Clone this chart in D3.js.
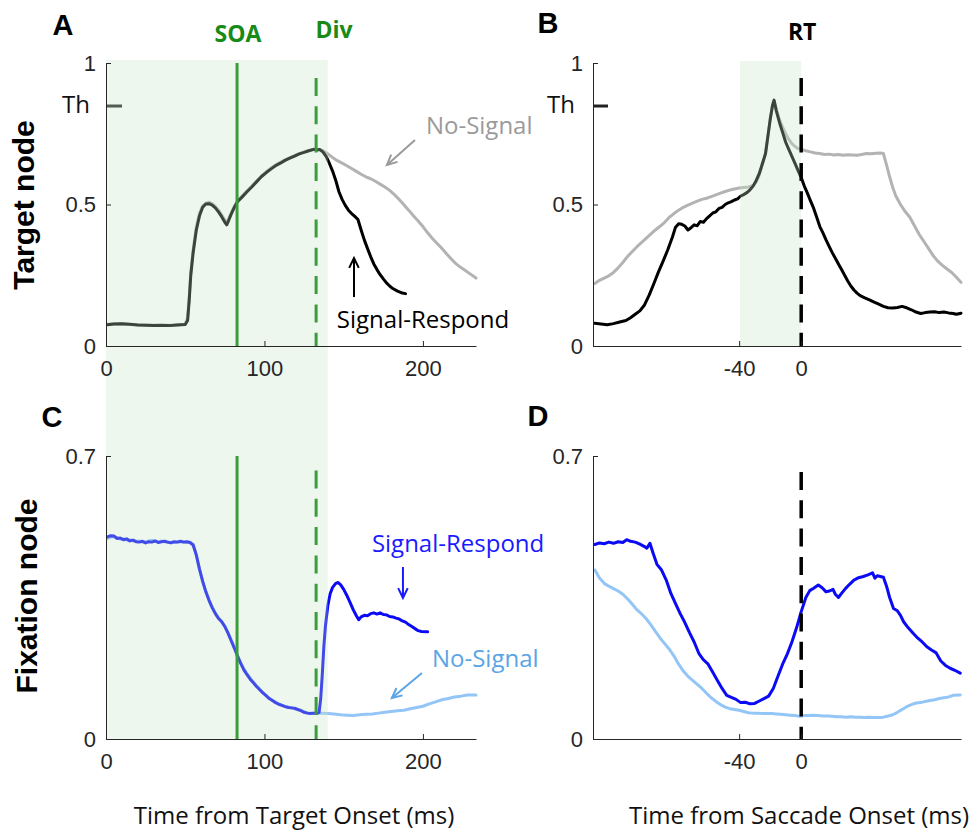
<!DOCTYPE html>
<html>
<head>
<meta charset="utf-8">
<script src="https://cdn.jsdelivr.net/npm/d3@7"></script>
<style>
  body { margin: 0; background: #fff; }
  .tick text { font-family: "Liberation Sans", Arial, sans-serif; font-size: 22px; fill: #262626; }
  .domain, .tick line { stroke: #262626; stroke-width: 1; }
  .note { font-family: "Open Sans", sans-serif; font-size: 24px; }
  .note.bold { font-size: 23px; font-weight: bold; }
  .panel { font-family: "Liberation Sans", Arial, sans-serif; font-size: 29px; font-weight: bold; }
</style>
</head>
<body>
<div id="fig"></div>
<script>
// ---- data ----
// panels A/C: time from target onset (ms); panels B/D: time from saccade onset (ms)
const targetTicksX = [0, 100, 200];
const saccadeTicksX = [-40, 0];
const targetNodeTicksY = [0, 0.5, 1];
const fixationNodeTicksY = [0, 0.7];
const soaTime = 82.7;
const divTime = 132.6;
const rtTime = 0;
const threshold = 0.848;

// A: target node, aligned on target
const aSignalRespond = [[1,0.075],[5,0.078],[10,0.079],[15,0.077],[20,0.074],[25,0.073],[30,0.072],[35,0.073],[40,0.072],[45,0.074],[50,0.076],[51.5,0.09],[52.5,0.16],[53.5,0.25],[55,0.33],[57,0.41],[59,0.46],[61,0.49],[63,0.502],[65,0.503],[67,0.498],[69,0.488],[71,0.474],[73,0.457],[75,0.437],[76.2,0.428],[77.5,0.445],[79,0.466],[81,0.49],[83,0.51],[86,0.527],[89,0.545],[92,0.562],[95,0.58],[98,0.598],[101,0.612],[104,0.625],[107,0.637],[110,0.646],[113,0.656],[116,0.664],[119,0.671],[122,0.679],[125,0.684],[128,0.69],[131,0.695],[133,0.693],[135,0.694],[137,0.685],[139,0.669],[141,0.645],[143,0.618],[145,0.585],[147,0.545],[149,0.518],[151,0.497],[153,0.48],[155,0.468],[157,0.458],[159,0.447],[161,0.41],[163,0.375],[165,0.345],[167,0.316],[169,0.29],[171,0.27],[173,0.252],[175,0.237],[177,0.223],[179,0.212],[181,0.203],[184,0.194],[187,0.187],[189,0.185]];
const aNoSignal = [[1,0.077],[5,0.079],[10,0.078],[15,0.076],[20,0.075],[25,0.074],[30,0.073],[35,0.072],[40,0.073],[45,0.075],[50,0.077],[51.5,0.1],[52.5,0.17],[53.5,0.26],[55,0.34],[57,0.42],[59,0.47],[61,0.495],[63,0.505],[65,0.508],[67,0.503],[69,0.493],[71,0.48],[73,0.463],[75,0.445],[76.2,0.437],[77.5,0.45],[79,0.47],[81,0.494],[83,0.513],[86,0.531],[89,0.548],[92,0.565],[95,0.583],[98,0.6],[101,0.615],[104,0.628],[107,0.64],[110,0.649],[113,0.658],[116,0.666],[119,0.673],[122,0.68],[125,0.686],[128,0.691],[131,0.694],[133,0.695],[135,0.694],[137,0.69],[140,0.679],[143,0.666],[146,0.655],[149,0.646],[152,0.637],[155,0.627],[158,0.617],[161,0.607],[164,0.598],[167,0.591],[170,0.582],[173,0.572],[176,0.562],[179,0.55],[182,0.535],[185,0.518],[188,0.499],[191,0.48],[194,0.46],[197,0.442],[200,0.422],[203,0.4],[206,0.38],[209,0.362],[212,0.345],[215,0.325],[218,0.307],[221,0.29],[224,0.277],[227,0.266],[230,0.254],[233.5,0.24]];

// B: target node, aligned on saccade
const bSignalRespond = [[-133,0.08],[-129,0.078],[-125,0.075],[-121,0.079],[-117,0.085],[-113,0.09],[-110,0.1],[-107,0.112],[-104,0.124],[-101,0.145],[-98,0.18],[-95,0.22],[-92,0.262],[-89,0.3],[-86,0.34],[-83,0.385],[-81,0.42],[-79,0.432],[-77,0.43],[-75,0.424],[-73,0.41],[-71,0.418],[-69,0.428],[-67,0.425],[-65,0.44],[-63,0.437],[-61,0.45],[-59,0.46],[-57,0.47],[-55,0.474],[-53,0.486],[-51,0.49],[-49,0.5],[-47,0.506],[-45,0.51],[-43,0.516],[-41,0.52],[-39,0.53],[-37,0.535],[-35,0.542],[-33,0.552],[-31,0.565],[-29,0.585],[-27,0.61],[-25,0.645],[-23,0.68],[-21.5,0.74],[-20,0.8],[-18.5,0.85],[-17.5,0.869],[-16,0.83],[-14,0.79],[-12,0.755],[-10,0.72],[-8,0.695],[-6,0.67],[-4,0.645],[-2,0.62],[0,0.595],[2,0.565],[4,0.54],[6,0.513],[8,0.487],[10,0.455],[12,0.422],[14,0.4],[16,0.375],[18,0.352],[20,0.33],[22,0.31],[24,0.29],[26,0.27],[28,0.25],[30,0.23],[32,0.212],[34,0.198],[36,0.187],[38,0.178],[41,0.17],[44,0.163],[47,0.155],[50,0.148],[53,0.14],[56,0.135],[59,0.134],[62,0.136],[65,0.14],[68,0.135],[71,0.128],[74,0.12],[77,0.115],[80,0.118],[83,0.12],[86,0.121],[89,0.118],[92,0.12],[95,0.117],[98,0.115],[100,0.112],[103,0.116]];
const bNoSignal = [[-133,0.221],[-130,0.232],[-127,0.24],[-124,0.248],[-121,0.26],[-118,0.276],[-115,0.295],[-112,0.316],[-109,0.333],[-106,0.35],[-103,0.365],[-100,0.38],[-97,0.395],[-94,0.41],[-91,0.423],[-88,0.437],[-85,0.455],[-82,0.468],[-79,0.48],[-76,0.49],[-73,0.498],[-70,0.505],[-67,0.512],[-64,0.518],[-61,0.522],[-58,0.528],[-55,0.534],[-52,0.54],[-49,0.546],[-46,0.551],[-43,0.555],[-40,0.558],[-37,0.56],[-34,0.562],[-31,0.567],[-29,0.58],[-27,0.605],[-25,0.64],[-23,0.68],[-21.5,0.74],[-20,0.8],[-18.5,0.85],[-17.5,0.867],[-16,0.835],[-14,0.8],[-12,0.773],[-10,0.75],[-8,0.73],[-6,0.715],[-4,0.705],[-2,0.698],[0,0.695],[3,0.69],[6,0.686],[9,0.682],[12,0.68],[15,0.677],[18,0.678],[21,0.675],[24,0.677],[27,0.674],[30,0.676],[33,0.675],[36,0.674],[39,0.677],[42,0.68],[45,0.679],[48,0.681],[51,0.682],[53,0.68],[55,0.64],[57,0.598],[59,0.56],[61,0.53],[64,0.5],[67,0.475],[70,0.455],[73,0.425],[76,0.395],[79,0.37],[82,0.345],[85,0.32],[88,0.3],[91,0.285],[94,0.272],[97,0.26],[100,0.243],[103,0.225]];

// C: fixation node, aligned on target
const cSignalRespond = [[1,0.5],[3,0.503],[5,0.502],[7,0.496],[9,0.497],[11,0.493],[13,0.495],[15,0.49],[17,0.492],[19,0.488],[21,0.487],[23,0.489],[25,0.485],[27,0.488],[29,0.487],[31,0.49],[33,0.486],[35,0.488],[37,0.489],[39,0.487],[41,0.485],[43,0.488],[45,0.487],[47,0.489],[49,0.487],[51,0.488],[53,0.486],[55,0.48],[57,0.455],[59,0.42],[61,0.39],[63,0.364],[65,0.343],[67,0.325],[69,0.31],[71,0.298],[73,0.29],[75,0.278],[77,0.262],[79,0.243],[81,0.225],[83,0.205],[85,0.187],[87,0.171],[89,0.159],[91,0.148],[93,0.139],[95,0.13],[97,0.122],[99,0.114],[101,0.107],[103,0.1],[105,0.095],[107,0.09],[109,0.086],[111,0.083],[113,0.08],[115,0.078],[117,0.077],[119,0.076],[121,0.073],[123,0.07],[125,0.066],[127,0.064],[129,0.063],[131,0.064],[133,0.063],[134.5,0.066],[135.5,0.1],[136.5,0.16],[137.5,0.23],[138.5,0.28],[140,0.33],[141.5,0.36],[143,0.375],[145,0.385],[146.5,0.387],[148,0.382],[150,0.37],[152,0.355],[154,0.338],[156,0.32],[158,0.305],[159.5,0.295],[161,0.302],[163,0.306],[165,0.305],[167,0.31],[169,0.312],[171,0.309],[173,0.312],[175,0.308],[177,0.307],[179,0.303],[181,0.302],[183,0.299],[185,0.297],[187,0.292],[189,0.289],[191,0.283],[193,0.278],[195,0.273],[197,0.268],[199,0.266],[203,0.265]];
const cNoSignal = [[1,0.496],[3,0.499],[5,0.5],[7,0.498],[9,0.494],[11,0.495],[13,0.492],[15,0.493],[17,0.49],[19,0.489],[21,0.49],[23,0.487],[25,0.488],[27,0.49],[29,0.492],[31,0.489],[33,0.487],[35,0.49],[37,0.488],[39,0.486],[41,0.487],[43,0.486],[45,0.488],[47,0.487],[49,0.488],[51,0.486],[53,0.487],[55,0.481],[57,0.456],[59,0.42],[61,0.391],[63,0.366],[65,0.345],[67,0.327],[69,0.312],[71,0.3],[73,0.291],[75,0.279],[77,0.263],[79,0.245],[81,0.226],[83,0.207],[85,0.189],[87,0.174],[89,0.162],[91,0.151],[93,0.141],[95,0.132],[97,0.124],[99,0.115],[101,0.108],[103,0.101],[105,0.096],[107,0.091],[109,0.087],[111,0.084],[113,0.081],[115,0.079],[117,0.077],[119,0.075],[121,0.073],[123,0.071],[125,0.067],[127,0.065],[129,0.064],[131,0.064],[133,0.064],[136,0.064],[140,0.063],[144,0.062],[148,0.06],[152,0.059],[156,0.058],[160,0.06],[164,0.061],[168,0.062],[172,0.064],[176,0.066],[180,0.068],[184,0.07],[188,0.071],[192,0.075],[196,0.078],[200,0.081],[204,0.087],[208,0.092],[212,0.097],[216,0.1],[220,0.104],[224,0.106],[228,0.109],[233.5,0.109]];

// D: fixation node, aligned on saccade
const dSignalRespond = [[-133,0.481],[-130,0.485],[-127,0.483],[-124,0.487],[-121,0.484],[-118,0.488],[-115,0.486],[-112.5,0.493],[-110,0.489],[-107,0.487],[-104,0.482],[-101,0.476],[-99.5,0.472],[-97.5,0.484],[-95.5,0.46],[-93,0.432],[-90,0.418],[-87,0.393],[-84,0.36],[-81,0.335],[-78,0.31],[-75,0.288],[-72,0.263],[-69,0.24],[-66,0.212],[-63,0.196],[-60,0.185],[-57,0.165],[-54,0.145],[-51,0.125],[-48,0.108],[-45,0.103],[-42,0.098],[-39,0.09],[-36,0.091],[-33,0.087],[-30,0.088],[-27,0.094],[-24,0.1],[-21,0.106],[-18,0.125],[-15,0.155],[-12,0.185],[-9,0.21],[-6,0.24],[-3,0.275],[0,0.315],[3,0.35],[5.5,0.367],[8,0.373],[11,0.381],[13.5,0.374],[16,0.364],[18,0.366],[20.5,0.37],[22,0.358],[24,0.35],[26,0.36],[28.5,0.372],[31,0.382],[34,0.393],[37,0.399],[40,0.402],[43,0.406],[46,0.411],[47.5,0.398],[49,0.404],[51,0.402],[53,0.4],[55,0.378],[57,0.35],[59.5,0.323],[62,0.317],[64,0.306],[66,0.29],[69,0.275],[72,0.262],[75,0.25],[78,0.24],[81,0.228],[84,0.22],[87,0.213],[90,0.193],[93,0.182],[96,0.175],[99,0.17],[102.5,0.163]];
const dNoSignal = [[-133,0.418],[-130,0.398],[-127,0.385],[-124,0.378],[-121,0.372],[-118,0.366],[-115,0.358],[-112,0.347],[-109,0.334],[-106,0.32],[-103,0.31],[-100,0.298],[-97,0.283],[-94,0.266],[-91,0.25],[-88,0.236],[-85,0.222],[-82,0.205],[-79,0.185],[-76,0.168],[-73,0.155],[-70,0.145],[-67,0.135],[-64,0.125],[-61,0.113],[-58,0.102],[-55,0.093],[-52,0.085],[-49,0.079],[-46,0.075],[-43,0.073],[-40,0.071],[-37,0.068],[-34,0.065],[-31,0.064],[-28,0.064],[-25,0.063],[-22,0.063],[-19,0.063],[-16,0.062],[-13,0.061],[-10,0.06],[-7,0.059],[-4,0.058],[-1,0.056],[2,0.058],[5,0.058],[8,0.059],[11,0.058],[14,0.057],[17,0.057],[20,0.056],[23,0.055],[26,0.055],[29,0.054],[32,0.055],[35,0.054],[38,0.054],[41,0.053],[44,0.054],[47,0.053],[50,0.053],[53,0.054],[56,0.057],[59,0.06],[62,0.066],[65,0.073],[68,0.08],[71,0.085],[74,0.089],[77,0.09],[80,0.093],[83,0.095],[86,0.097],[89,0.1],[92,0.102],[95,0.104],[98,0.108],[102.5,0.109]];

// ---- layout ----
const W = 973, H = 832;
const svg = d3.select("#fig").append("svg").attr("width", W).attr("height", H);

const xTarget = d3.scaleLinear().domain([0, 233.5]).range([106, 476]);
const xSaccade = d3.scaleLinear().domain([-134.2, 103]).range([593, 961]);
const yTarget = d3.scaleLinear().domain([0, 1]).range([346, 63]);
const yFix = d3.scaleLinear().domain([0, 0.7]).range([739, 456]);

const GREY = "#b3b3b3", BLACK = "#000", BLUE = "#0a0af5", LIGHTBLUE = "#93c5f7";
const GREEN = "#3a9c3a", GREENTXT = "#178a17";

const layers = {
  lines: svg.append("g"),
  shade: svg.append("g"),
  marks: svg.append("g"),
  axes: svg.append("g"),
  text: svg.append("g")
};

function drawLine(data, x, y, color) {
  layers.lines.append("path")
    .datum(data)
    .attr("fill", "none")
    .attr("stroke", color)
    .attr("stroke-width", 3)
    .attr("stroke-linejoin", "round")
    .attr("stroke-linecap", "round")
    .attr("d", d3.line().x(d => x(d[0])).y(d => y(d[1])));
}

function drawAxes(x, y, xt, yt) {
  const yBot = y.range()[0];
  // plain hyphen for negatives, like the original
  layers.axes.append("g")
    .attr("transform", `translate(0,${yBot})`)
    .call(d3.axisBottom(x).tickValues(xt).tickSize(-5).tickSizeOuter(0).tickPadding(14).tickFormat(d => String(d)));
  layers.axes.append("g")
    .attr("transform", `translate(${x.range()[0]},0)`)
    .call(d3.axisLeft(y).tickValues(yt).tickSize(-5).tickSizeOuter(0).tickPadding(10).tickFormat(d => String(d)));
  layers.axes.selectAll("text").attr("fill", "#262626");
}

function vline(x, y0, y1, color, dashed, width) {
  layers.marks.append("line")
    .attr("x1", x).attr("x2", x).attr("y1", y0).attr("y2", y1)
    .attr("stroke", color).attr("stroke-width", width || 3)
    .attr("stroke-dasharray", dashed ? "18,10.3" : null);
}

function arrow(x0, y0, x1, y1, color) {
  const g = layers.text.append("g").attr("stroke", color).attr("stroke-width", 2).attr("fill", "none");
  g.append("line").attr("x1", x0).attr("y1", y0).attr("x2", x1).attr("y2", y1);
  const a = Math.atan2(y1 - y0, x1 - x0), L = 11, s = 0.45;
  g.append("path")
    .attr("stroke-linejoin", "miter")
    .attr("d", `M${x1 - L * Math.cos(a - s)},${y1 - L * Math.sin(a - s)}L${x1},${y1}L${x1 - L * Math.cos(a + s)},${y1 - L * Math.sin(a + s)}`);
}

function note(x, y, str, color, opts) {
  const t = layers.text.append("text").attr("class", "note")
    .attr("x", x).attr("y", y).attr("fill", color).text(str);
  if (opts && opts.anchor) t.attr("text-anchor", opts.anchor);
  if (opts && opts.bold) t.classed("bold", true);
  return t;
}

// ---- lines ----
drawLine(aNoSignal, xTarget, yTarget, GREY);
drawLine(aSignalRespond, xTarget, yTarget, BLACK);
drawLine(bNoSignal, xSaccade, yTarget, GREY);
drawLine(bSignalRespond, xSaccade, yTarget, BLACK);
drawLine(cNoSignal, xTarget, yFix, LIGHTBLUE);
drawLine(cSignalRespond, xTarget, yFix, BLUE);
drawLine(dNoSignal, xSaccade, yFix, LIGHTBLUE);
drawLine(dSignalRespond, xSaccade, yFix, BLUE);

// threshold ticks (under the shading)
[[xTarget, 16], [xSaccade, 15]].forEach(([x, len]) => {
  layers.lines.append("line")
    .attr("x1", x.range()[0]).attr("x2", x.range()[0] + len)
    .attr("y1", yTarget(threshold)).attr("y2", yTarget(threshold))
    .attr("stroke", "#222").attr("stroke-width", 3);
});

// ---- shaded windows (translucent, over the traces) ----
layers.shade.append("rect")
  .attr("x", xTarget(0)).attr("width", xTarget(140) - xTarget(0))
  .attr("y", 60).attr("height", yFix(0) - 60)
  .attr("fill", "rgb(200,230,200)").attr("fill-opacity", 0.3);
layers.shade.append("rect")
  .attr("x", xSaccade(-39.4)).attr("width", xSaccade(0) - xSaccade(-39.4))
  .attr("y", 61).attr("height", yTarget(0) - 61)
  .attr("fill", "rgb(200,230,200)").attr("fill-opacity", 0.3);

// ---- event markers ----
vline(xTarget(soaTime), yTarget(1), yTarget(0), GREEN, false);
vline(xTarget(soaTime), yFix(0.7), yFix(0), GREEN, false);
vline(xTarget(divTime), 78, yTarget(0), GREEN, true);
vline(xTarget(divTime), 470.5, yFix(0), GREEN, true);
vline(xSaccade(rtTime), 78, yTarget(0), BLACK, true, 3.5);
vline(xSaccade(rtTime), 472, yFix(0), BLACK, true, 3.5);

// ---- axes ----
drawAxes(xTarget, yTarget, targetTicksX, targetNodeTicksY);
drawAxes(xSaccade, yTarget, saccadeTicksX, targetNodeTicksY);
drawAxes(xTarget, yFix, targetTicksX, fixationNodeTicksY);
drawAxes(xSaccade, yFix, saccadeTicksX, fixationNodeTicksY);

// ---- text ----
[["A", 63, 35], ["B", 548, 33], ["C", 52, 427], ["D", 538, 426]].forEach(([s, x, y]) => {
  layers.text.append("text").attr("class", "panel").attr("x", x).attr("y", y)
    .attr("text-anchor", "middle").text(s);
});

note(xTarget(soaTime) + 1, 42, "SOA", GREENTXT, { anchor: "middle", bold: true });
note(334, 38, "Div", GREENTXT, { anchor: "middle", bold: true });
note(xSaccade(rtTime) + 1, 40, "RT", BLACK, { anchor: "middle", bold: true });

note(90, 113, "Th", "#111", { anchor: "end" });
note(575, 113, "Th", "#111", { anchor: "end" });

layers.text.append("text").attr("class", "panel")
  .attr("transform", "translate(34,205) rotate(-90)")
  .attr("text-anchor", "middle").style("font-size", "30px").text("Target node");
layers.text.append("text").attr("class", "panel")
  .attr("transform", "translate(37,596) rotate(-90)")
  .attr("text-anchor", "middle").style("font-size", "30px").text("Fixation node");

note(294, 824, "Time from Target Onset (ms)", "#111", { anchor: "middle" });
note(799, 824, "Time from Saccade Onset (ms)", "#111", { anchor: "middle" });

// annotations (placed in data units)
note(xTarget(201.9), yTarget(0.749), "No-Signal", "#9a9a9a");
arrow(xTarget(195), yTarget(0.728), xTarget(177.3), yTarget(0.64), "#9a9a9a");
note(xTarget(145.7), yTarget(0.064), "Signal-Respond", BLACK);
arrow(xTarget(156.5), yTarget(0.173), xTarget(156.5), yTarget(0.311), BLACK);

note(xTarget(167.8), yFix(0.4625), "Signal-Respond", "#1a1aff");
arrow(xTarget(187.4), yFix(0.4254), xTarget(187.4), yFix(0.3488), "#1a1aff");
note(xTarget(205.7), yFix(0.178), "No-Signal", "#5aa5e6");
arrow(xTarget(199.4), yFix(0.163), xTarget(180.4), yFix(0.1014), "#5aa5e6");
</script>
</body>
</html>
